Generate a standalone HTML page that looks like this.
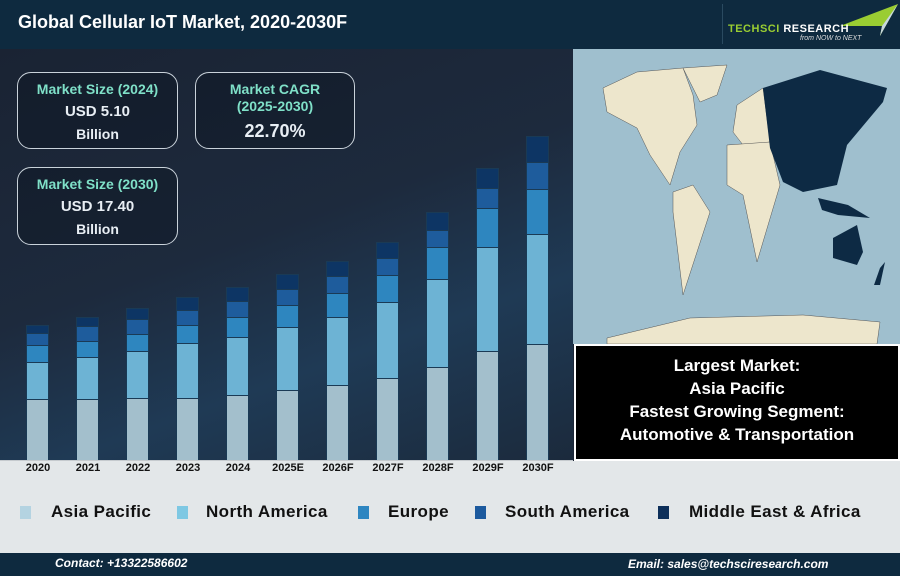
<!DOCTYPE html>
<html><head><meta charset="utf-8"><style>
*{margin:0;padding:0;box-sizing:border-box}
body{width:900px;height:576px;overflow:hidden;font-family:"Liberation Sans",sans-serif;background:#1b2535;position:relative}
.abs{position:absolute}
.box{position:absolute;border:1.5px solid #c9d2da;border-radius:14px;background:rgba(10,18,30,0.35);text-align:center;font-weight:bold}
.t{color:#7fe0c8;font-size:14px;line-height:17px}
.v{color:#e8eef4;font-size:15px;line-height:22px}
.bar{position:absolute;width:23px;border:1px solid #1a3a55;border-bottom:none}
.yl{position:absolute;top:462px;font-size:11px;font-weight:bold;color:#111;width:50px;text-align:center}
.lg{position:absolute;top:502px;font-size:17px;font-weight:bold;color:#111;letter-spacing:0.4px}
.sw{position:absolute;top:506px;width:11px;height:13px}
</style></head><body>
<div class="abs" style="left:0;top:49px;width:573px;height:412px;background:linear-gradient(160deg,#1a2333 0%,#1d2a3d 45%,#1f3a55 70%,#1b2a3c 100%)"></div>
<div class="abs" style="left:0;top:0;width:900px;height:49px;background:#0e2a3f"></div>
<div class="abs" style="left:18px;top:12px;color:#fff;font-size:18px;font-weight:bold">Global Cellular IoT Market, 2020-2030F</div>
<div class="abs" style="left:722px;top:4px;width:1px;height:40px;background:#2a4a60"></div>
<svg class="abs" style="left:820px;top:2px" width="80" height="36"><polygon points="78,2 20,24 62,24 60,34" fill="#9acd32"/><polygon points="78,2 62,24 60,34" fill="#c8d8e0"/></svg>
<div class="abs" style="left:728px;top:23px;font-size:11px;font-weight:bold;color:#9acd32;letter-spacing:0.5px">TECHSCI <span style="color:#fff">RESEARCH</span></div>
<div class="abs" style="left:800px;top:35px;font-size:7px;font-style:italic;color:#ddd">from NOW to NEXT</div>

<div class="box" style="left:17px;top:72px;width:161px;height:77px"><div class="t" style="margin-top:8px">Market Size (2024)</div><div class="v" style="margin-top:3px">USD 5.10</div><div class="v" style="font-size:14px">Billion</div></div>
<div class="box" style="left:195px;top:72px;width:160px;height:77px"><div class="t" style="margin-top:8px">Market CAGR</div><div class="t">(2025-2030)</div><div class="v" style="font-size:18px;margin-top:5px">22.70%</div></div>
<div class="box" style="left:17px;top:167px;width:161px;height:78px"><div class="t" style="margin-top:8px">Market Size (2030)</div><div class="v" style="margin-top:3px">USD 17.40</div><div class="v" style="font-size:14px">Billion</div></div>

<div id="bars"></div>
<div class="abs" style="left:0;top:460px;width:573px;height:2px;background:#c5cace"></div>
<div class="abs" style="left:0;top:461px;width:900px;height:92px;background:#e3e7e9"></div>
<div id="labs"></div>

<svg class="abs" style="left:573px;top:49px" width="327" height="295" viewBox="573 49 327 295">
<rect x="573" y="49" width="327" height="295" fill="#9fbfce"/>
<g fill="#ede6cc" stroke="#555" stroke-width="0.5">
<polygon points="603,88 637,72 683,68 693,95 697,125 680,152 670,185 650,155 637,128 607,112"/>
<polygon points="683,68 727,65 717,95 700,102"/>
<polygon points="673,192 693,185 710,212 697,252 683,295 677,245 673,212"/>
<polygon points="733,132 737,105 763,88 770,142 743,145"/>
<polygon points="727,145 770,142 780,185 757,262 743,195 727,185"/>
<polygon points="607,338 690,318 803,315 880,322 877,344 607,344"/>
</g>
<g fill="#0d2a44">
<polygon points="763,88 820,70 887,88 883,102 847,145 837,185 803,192 783,182 770,148"/>
<polygon points="833,238 857,225 863,252 857,265 833,258"/>
<polygon points="818,198 848,205 870,218 838,215 822,210"/>
<polygon points="880,268 885,262 880,285 874,285"/>
</g>
</svg>
<div class="abs" style="left:574px;top:344px;width:326px;height:117px;background:#000;border:2px solid #fff"></div>
<div class="abs" style="left:575px;top:354px;width:324px;text-align:center;color:#fff;font-size:17px;font-weight:bold;line-height:23px">Largest Market:<br>Asia Pacific<br>Fastest Growing Segment:<br>Automotive &amp; Transportation</div>

<div class="sw" style="left:20px;background:#b4d3e1"></div><div class="lg" style="left:51px">Asia Pacific</div>
<div class="sw" style="left:177px;background:#7ec8e3"></div><div class="lg" style="left:206px">North America</div>
<div class="sw" style="left:358px;background:#2e86c1"></div><div class="lg" style="left:388px">Europe</div>
<div class="sw" style="left:475px;background:#1c5a9e"></div><div class="lg" style="left:505px">South America</div>
<div class="sw" style="left:658px;background:#0d2f5a"></div><div class="lg" style="left:689px">Middle East &amp; Africa</div>

<div class="abs" style="left:0;top:553px;width:900px;height:23px;background:#0e2a3f"></div>
<div class="abs" style="left:55px;top:556px;color:#fff;font-size:12px;font-weight:bold;font-style:italic">Contact: +13322586602</div>
<div class="abs" style="left:628px;top:557px;color:#fff;font-size:12px;font-weight:bold;font-style:italic">Email: sales@techsciresearch.com</div>

<script>
var d=[[325,333,345,362,399],[317,326,341,357,399],[308,319,334,351,398],[297,310,325,343,398],[287,301,317,337,395],[274,289,305,327,390],[261,276,293,317,385],[242,258,275,302,378],[212,230,247,279,367],[168,188,208,247,351],[136,162,189,234,344]];
var L=["2020","2021","2022","2023","2024","2025E","2026F","2027F","2028F","2029F","2030F"];
var c=["#0d3564","#1e5c9c","#2e86bf","#6db3d4","#a3bfcc"];
var h="",g="";
d.forEach(function(b,i){var x=26+i*50;for(var k=0;k<5;k++){var t=b[k],e=k<4?b[k+1]:460;h+='<div class="bar" style="left:'+x+'px;top:'+t+'px;height:'+(e-t)+'px;background:'+c[k]+'"></div>';}
g+='<div class="yl" style="left:'+(x-13)+'px">'+L[i]+'</div>';});
document.getElementById("bars").innerHTML=h;
document.getElementById("labs").innerHTML=g;
</script>
</body></html>
